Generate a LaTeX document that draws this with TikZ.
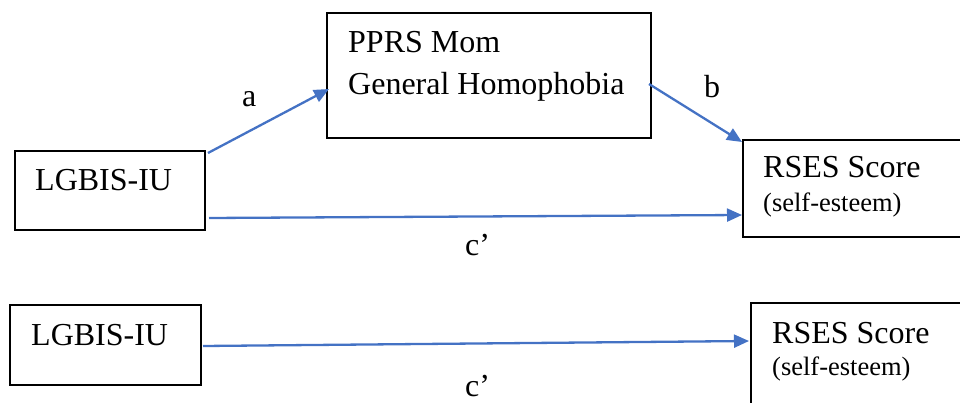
\documentclass[tikz,border=0pt]{standalone}
\usepackage{fontspec}
\setmainfont{Liberation Serif}
\usetikzlibrary{arrows.meta}
\definecolor{arrblue}{RGB}{68,114,196}
\tikzset{
  box/.style={draw=black, line width=1.8pt, fill=none},
  lbl/.style={anchor=base west, inner sep=0pt, font=\fontsize{32}{37}\selectfont},
  small/.style={anchor=base west, inner sep=0pt, font=\fontsize{26.5}{30}\selectfont},
  conn/.style={draw=arrblue, line width=2.3pt, -{Triangle[length=15pt,width=13pt]}}
}
\begin{document}
\begin{tikzpicture}[x=1pt,y=-1pt]
\useasboundingbox (0,0) rectangle (960,403);
\clip (0,0) rectangle (960,403);
% boxes
\draw[box] (15,151) rectangle (205,230) node[pos=0.5, inner sep=0pt] (lg1) {};
\draw[box] (327,13) rectangle (651,138) node[pos=0.5, inner sep=0pt] (pp) {};
\draw[box] (743,140) rectangle (985,237) node[pos=0.5, inner sep=0pt] (rs1) {};
\draw[box] (10,305) rectangle (201,385) node[pos=0.5, inner sep=0pt] (lg2) {};
\draw[box] (751,303) rectangle (985,430) node[pos=0.5, inner sep=0pt] (rs2) {};
% texts
\node[lbl] (t1) at (35,191) {LGBIS-IU};
\node[lbl] (t2) at (348,53) {PPRS Mom};
\node[lbl] (t3) at (348,95) {General Homophobia};
\node[lbl] (t4) at (763,178) {RSES Score};
\node[small] (t5) at (763,212) {(self-esteem)};
\node[lbl] (t6) at (31,345) {LGBIS-IU};
\node[lbl] (t7) at (772,343) {RSES Score};
\node[small] (t8) at (772,375) {(self-esteem)};
% path labels
\node[lbl] (la) at (242,107) {a};
\node[lbl] (lb) at (704,98) {b};
\node[lbl] (lc1) at (465,255) {c’};
\node[lbl] (lc2) at (465,396) {c’};
% connector endpoints
\coordinate (a0) at (208,153);
\coordinate (a1) at (329,89);
\coordinate (b0) at (649,84);
\coordinate (b1) at (742,142);
\coordinate (c0) at (209,218);
\coordinate (c1) at (742,215);
\coordinate (d0) at (203,346);
\coordinate (d1) at (749,341);
\draw[conn] (a0) -- (a1);
\draw[conn] (b0) -- (b1);
\draw[conn] (c0) -- (c1);
\draw[conn] (d0) -- (d1);
\end{tikzpicture}
\end{document}
